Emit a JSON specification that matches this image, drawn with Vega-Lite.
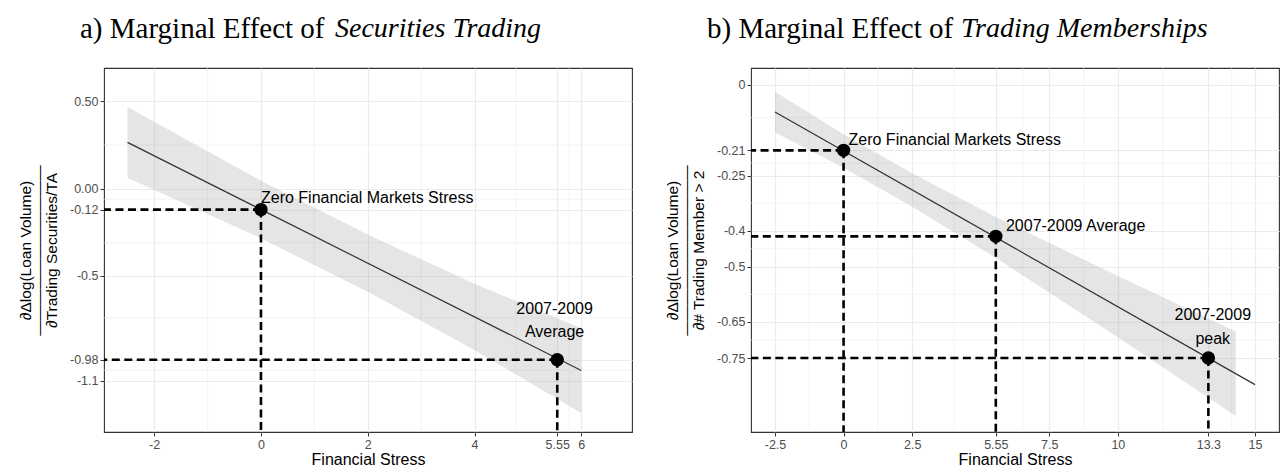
{
  "$schema": "https://vega.github.io/schema/vega-lite/v6.json",
  "background": "white",
  "padding": {"left": 17, "top": 14, "right": 0, "bottom": 0},
  "spacing": 31,
  "config": {
    "view": {"stroke": "#333333", "strokeWidth": 1.1},
    "axis": {
      "grid": true,
      "gridColor": "#ebebeb",
      "gridWidth": 1.1,
      "domain": false,
      "tickColor": "#333333",
      "tickSize": 4,
      "tickWidth": 1,
      "labelPadding": 2,
      "labelFont": "Liberation Sans",
      "labelFontSize": 12.5,
      "labelColor": "#4d4d4d",
      "titleFont": "Liberation Sans",
      "titleFontSize": 16,
      "titleFontWeight": "normal",
      "titleColor": "#000000"
    },
    "axisX": {"titlePadding": 1, "labelFlush": false},
    "axisY": {"titlePadding": 10, "titleFontSize": 15.5, "titleLineHeight": 13},
    "title": {
      "font": "Liberation Serif",
      "fontSize": 29,
      "fontWeight": "normal",
      "color": "#000000",
      "anchor": "start",
      "frame": "group",
      "baseline": "alphabetic"
    },
    "text": {"font": "Liberation Sans", "fontSize": 16, "color": "#000000", "baseline": "middle"}
  },
  "hconcat": [
    {
      "title": {"text": "Securities Trading", "fontStyle": "italic", "fontSize": 28, "offset": -29, "dx": 231},
      "vconcat": [
        {
          "width": 528,
          "height": 364,
          "title": {"text": "a) Marginal Effect of", "offset": 24, "dx": -24},
          "layer": [
            {
              "data": {"values": [{"x": -1}, {"x": 1}, {"x": 3}, {"x": 4.775}, {"x": 5.775}]},
              "mark": {"type": "rule", "color": "#ebebeb", "strokeWidth": 0.6},
              "encoding": {
                "x": {
                  "field": "x", "type": "quantitative", "title": "Financial Stress",
                  "scale": {"domain": [-2.94, 6.95], "nice": false, "zero": false},
                  "axis": {"values": [-2, 0, 2, 4, 5.55, 6], "labelExpr": "'' + datum.value"}
                }
              }
            },
            {
              "data": {"values": [{"y": 0.25}, {"y": -0.06}, {"y": -0.31}, {"y": -0.74}, {"y": -1.04}]},
              "mark": {"type": "rule", "color": "#ebebeb", "strokeWidth": 0.6},
              "encoding": {
                "y": {
                  "field": "y", "type": "quantitative",
                  "title": ["∂Δlog(Loan Volume)", "———————————", "∂Trading Securities/TA"],
                  "scale": {"domain": [-1.394, 0.691], "nice": false, "zero": false},
                  "axis": {
                    "values": [0.5, 0, -0.12, -0.5, -0.98, -1.1],
                    "labelExpr": "datum.value == 0.5 ? '0.50' : datum.value == 0 ? '0.00' : '' + datum.value"
                  }
                }
              }
            },
            {
              "data": {"values": [
                {"x": -2.5, "lo": 0.063, "hi": 0.467},
                {"x": 0, "lo": -0.284, "hi": 0.045},
                {"x": 2, "lo": -0.591, "hi": -0.263},
                {"x": 4, "lo": -0.925, "hi": -0.545},
                {"x": 6, "lo": -1.285, "hi": -0.799}
              ]},
              "mark": {"type": "area", "color": "#999999", "opacity": 0.25},
              "encoding": {
                "x": {"field": "x", "type": "quantitative", "scale": {"domain": [-2.94, 6.95], "nice": false, "zero": false}},
                "y": {"field": "lo", "type": "quantitative", "scale": {"domain": [-1.394, 0.691], "nice": false, "zero": false}},
                "y2": {"field": "hi"}
              }
            },
            {
              "data": {"values": [{"x": -2.5, "y": 0.265}, {"x": 6, "y": -1.042}]},
              "mark": {"type": "line", "color": "#333333", "strokeWidth": 1.2},
              "encoding": {
                "x": {"field": "x", "type": "quantitative", "scale": {"domain": [-2.94, 6.95], "nice": false, "zero": false}},
                "y": {"field": "y", "type": "quantitative", "scale": {"domain": [-1.394, 0.691], "nice": false, "zero": false}}
              }
            },
            {
              "data": {"values": [{"x": 0, "y": -0.12}, {"x": 5.55, "y": -0.98}]},
              "layer": [
                {
                  "mark": {"type": "rule", "color": "#000000", "strokeWidth": 2.6, "strokeDash": [8, 4.5]},
                  "encoding": {
                    "x": {"field": "x", "type": "quantitative", "scale": {"domain": [-2.94, 6.95], "nice": false, "zero": false}},
                    "x2": {"datum": -2.94},
                    "y": {"field": "y", "type": "quantitative", "scale": {"domain": [-1.394, 0.691], "nice": false, "zero": false}}
                  }
                },
                {
                  "mark": {"type": "rule", "color": "#000000", "strokeWidth": 2.6, "strokeDash": [8, 4.5]},
                  "encoding": {
                    "x": {"field": "x", "type": "quantitative", "scale": {"domain": [-2.94, 6.95], "nice": false, "zero": false}},
                    "y": {"field": "y", "type": "quantitative", "scale": {"domain": [-1.394, 0.691], "nice": false, "zero": false}},
                    "y2": {"datum": -1.394}
                  }
                },
                {
                  "mark": {"type": "circle", "color": "#000000", "opacity": 1, "size": 180},
                  "encoding": {
                    "x": {"field": "x", "type": "quantitative", "scale": {"domain": [-2.94, 6.95], "nice": false, "zero": false}},
                    "y": {"field": "y", "type": "quantitative", "scale": {"domain": [-1.394, 0.691], "nice": false, "zero": false}}
                  }
                }
              ]
            },
            {
              "data": {"values": [{"x": 0, "y": -0.054, "text": "Zero Financial Markets Stress"}]},
              "mark": {"type": "text", "align": "left"},
              "encoding": {
                "x": {"field": "x", "type": "quantitative", "scale": {"domain": [-2.94, 6.95], "nice": false, "zero": false}},
                "y": {"field": "y", "type": "quantitative", "scale": {"domain": [-1.394, 0.691], "nice": false, "zero": false}},
                "text": {"field": "text"}
              }
            },
            {
              "data": {"values": [
                {"x": 5.5, "y": -0.687, "text": "2007-2009"},
                {"x": 5.5, "y": -0.821, "text": "Average"}
              ]},
              "mark": {"type": "text", "align": "center"},
              "encoding": {
                "x": {"field": "x", "type": "quantitative", "scale": {"domain": [-2.94, 6.95], "nice": false, "zero": false}},
                "y": {"field": "y", "type": "quantitative", "scale": {"domain": [-1.394, 0.691], "nice": false, "zero": false}},
                "text": {"field": "text"}
              }
            }
          ]
        }
      ]
    },
    {
      "title": {"text": "Trading Memberships", "fontStyle": "italic", "fontSize": 28, "offset": -29, "dx": 210},
      "vconcat": [
        {
          "width": 528,
          "height": 364,
          "title": {"text": "b) Marginal Effect of", "offset": 24, "dx": -44},
          "layer": [
            {
              "data": {"values": [{"x": -1.25}, {"x": 1.25}, {"x": 4.025}, {"x": 6.525}, {"x": 8.75}, {"x": 11.65}, {"x": 14.15}]},
              "mark": {"type": "rule", "color": "#ebebeb", "strokeWidth": 0.6},
              "encoding": {
                "x": {
                  "field": "x", "type": "quantitative", "title": "Financial Stress",
                  "scale": {"domain": [-3.375, 15.875], "nice": false, "zero": false},
                  "axis": {"values": [-2.5, 0, 2.5, 5.55, 7.5, 10, 13.3, 15], "labelExpr": "'' + datum.value"}
                }
              }
            },
            {
              "data": {"values": [{"y": -0.09}, {"y": -0.215}, {"y": -0.325}, {"y": -0.45}, {"y": -0.575}, {"y": -0.7}]},
              "mark": {"type": "rule", "color": "#ebebeb", "strokeWidth": 0.6},
              "encoding": {
                "y": {
                  "field": "y", "type": "quantitative",
                  "title": ["∂Δlog(Loan Volume)", "———————————", "∂# Trading Member > 2"],
                  "scale": {"domain": [-0.953, 0.046], "nice": false, "zero": false},
                  "axis": {
                    "values": [0, -0.18, -0.25, -0.4, -0.5, -0.65, -0.75],
                    "labelExpr": "datum.value == -0.18 ? '-0.21' : '' + datum.value"
                  }
                }
              }
            },
            {
              "data": {"values": [
                {"x": -2.5, "lo": -0.131, "hi": -0.019},
                {"x": 0, "lo": -0.228, "hi": -0.136},
                {"x": 2.5, "lo": -0.335, "hi": -0.243},
                {"x": 5.55, "lo": -0.475, "hi": -0.363},
                {"x": 10, "lo": -0.693, "hi": -0.525},
                {"x": 14.3, "lo": -0.909, "hi": -0.677}
              ]},
              "mark": {"type": "area", "color": "#999999", "opacity": 0.25},
              "encoding": {
                "x": {"field": "x", "type": "quantitative", "scale": {"domain": [-3.375, 15.875], "nice": false, "zero": false}},
                "y": {"field": "lo", "type": "quantitative", "scale": {"domain": [-0.953, 0.046], "nice": false, "zero": false}},
                "y2": {"field": "hi"}
              }
            },
            {
              "data": {"values": [{"x": -2.5, "y": -0.075}, {"x": 15, "y": -0.823}]},
              "mark": {"type": "line", "color": "#333333", "strokeWidth": 1.2},
              "encoding": {
                "x": {"field": "x", "type": "quantitative", "scale": {"domain": [-3.375, 15.875], "nice": false, "zero": false}},
                "y": {"field": "y", "type": "quantitative", "scale": {"domain": [-0.953, 0.046], "nice": false, "zero": false}}
              }
            },
            {
              "data": {"values": [{"x": 0, "y": -0.18}, {"x": 5.55, "y": -0.416}, {"x": 13.3, "y": -0.75}]},
              "layer": [
                {
                  "mark": {"type": "rule", "color": "#000000", "strokeWidth": 2.6, "strokeDash": [8, 4.5]},
                  "encoding": {
                    "x": {"field": "x", "type": "quantitative", "scale": {"domain": [-3.375, 15.875], "nice": false, "zero": false}},
                    "x2": {"datum": -3.375},
                    "y": {"field": "y", "type": "quantitative", "scale": {"domain": [-0.953, 0.046], "nice": false, "zero": false}}
                  }
                },
                {
                  "mark": {"type": "rule", "color": "#000000", "strokeWidth": 2.6, "strokeDash": [8, 4.5]},
                  "encoding": {
                    "x": {"field": "x", "type": "quantitative", "scale": {"domain": [-3.375, 15.875], "nice": false, "zero": false}},
                    "y": {"field": "y", "type": "quantitative", "scale": {"domain": [-0.953, 0.046], "nice": false, "zero": false}},
                    "y2": {"datum": -0.953}
                  }
                },
                {
                  "mark": {"type": "circle", "color": "#000000", "opacity": 1, "size": 180},
                  "encoding": {
                    "x": {"field": "x", "type": "quantitative", "scale": {"domain": [-3.375, 15.875], "nice": false, "zero": false}},
                    "y": {"field": "y", "type": "quantitative", "scale": {"domain": [-0.953, 0.046], "nice": false, "zero": false}}
                  }
                }
              ]
            },
            {
              "data": {"values": [
                {"x": 0.18, "y": -0.152, "text": "Zero Financial Markets Stress"},
                {"x": 5.92, "y": -0.387, "text": "2007-2009 Average"}
              ]},
              "mark": {"type": "text", "align": "left"},
              "encoding": {
                "x": {"field": "x", "type": "quantitative", "scale": {"domain": [-3.375, 15.875], "nice": false, "zero": false}},
                "y": {"field": "y", "type": "quantitative", "scale": {"domain": [-0.953, 0.046], "nice": false, "zero": false}},
                "text": {"field": "text"}
              }
            },
            {
              "data": {"values": [
                {"x": 13.46, "y": -0.633, "text": "2007-2009"},
                {"x": 13.46, "y": -0.697, "text": "peak"}
              ]},
              "mark": {"type": "text", "align": "center"},
              "encoding": {
                "x": {"field": "x", "type": "quantitative", "scale": {"domain": [-3.375, 15.875], "nice": false, "zero": false}},
                "y": {"field": "y", "type": "quantitative", "scale": {"domain": [-0.953, 0.046], "nice": false, "zero": false}},
                "text": {"field": "text"}
              }
            }
          ]
        }
      ]
    }
  ]
}
